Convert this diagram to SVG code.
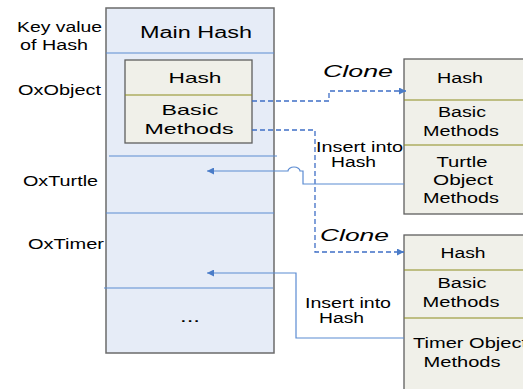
<svg xmlns="http://www.w3.org/2000/svg" width="523" height="389" viewBox="0 0 523 389">
<style>
text{font-family:"Liberation Sans",Arial,sans-serif;fill:#000;}
.lbl{font-size:14px;}
.big{font-size:16px;}
.bx{font-size:15px;text-anchor:middle;}
.rb{font-size:14px;text-anchor:middle;}
.cl{font-size:17px;font-style:italic;}
.main{fill:#e6ecf7;stroke:#6b6b6b;stroke-width:1.5;}
.obj{fill:#f0f0e9;stroke:#5f5f5f;stroke-width:1.3;}
.div{stroke:#5b8bd2;stroke-width:1.2;}
.olv{stroke:#8c8c1e;stroke-width:1.2;}
.sol{fill:none;stroke:#5b8bd2;stroke-width:1.2;}
.dsh{fill:none;stroke:#3f6fc6;stroke-width:1.3;stroke-dasharray:5,3;}
</style>
<defs>
<marker id="ah" viewBox="0 0 10 10" refX="10" refY="5" markerWidth="10" markerHeight="7" markerUnits="userSpaceOnUse" orient="auto">
<path d="M0,0 L10,5 L0,10 z" fill="#4a7cc8"/>
</marker>
</defs>

<g id="keys">
<text class="lbl" x="17" y="32" textLength="85" lengthAdjust="spacingAndGlyphs">Key value</text>
<text class="lbl" x="20" y="50" textLength="68" lengthAdjust="spacingAndGlyphs">of Hash</text>
<text class="lbl" x="18" y="95" textLength="83" lengthAdjust="spacingAndGlyphs">OxObject</text>
<text class="lbl" x="23" y="186" textLength="75" lengthAdjust="spacingAndGlyphs">OxTurtle</text>
<text class="lbl" x="28" y="249" textLength="76" lengthAdjust="spacingAndGlyphs">OxTimer</text>
</g>

<g id="mainhash">
<rect class="main" x="106" y="8" width="168" height="345"/>
<text class="big" x="140" y="38" textLength="112" lengthAdjust="spacingAndGlyphs">Main Hash</text>
<line class="div" x1="106" y1="53" x2="274" y2="53"/>
<line class="div" x1="109" y1="156" x2="277" y2="156"/>
<line class="div" x1="106" y1="213" x2="274" y2="213"/>
<line class="div" x1="104" y1="288" x2="273" y2="288"/>
<text class="big" x="180" y="322" textLength="20" lengthAdjust="spacingAndGlyphs">...</text>
</g>

<g id="oxobject">
<rect class="obj" x="125" y="60" width="127" height="83"/>
<line class="olv" x1="125" y1="95" x2="252" y2="95"/>
<text class="bx" x="195" y="83" textLength="53" lengthAdjust="spacingAndGlyphs">Hash</text>
<text class="bx" x="190" y="115" textLength="57" lengthAdjust="spacingAndGlyphs">Basic</text>
<text class="bx" x="189" y="134" textLength="89" lengthAdjust="spacingAndGlyphs">Methods</text>
</g>

<g id="oxturtle">
<rect class="obj" x="404" y="59" width="130" height="155"/>
<line class="olv" x1="404" y1="100" x2="534" y2="100"/>
<line class="olv" x1="404" y1="145" x2="534" y2="145"/>
<text class="rb" x="460" y="83" textLength="46" lengthAdjust="spacingAndGlyphs">Hash</text>
<text class="rb" x="462" y="117" textLength="48" lengthAdjust="spacingAndGlyphs">Basic</text>
<text class="rb" x="461" y="136" textLength="76" lengthAdjust="spacingAndGlyphs">Methods</text>
<text class="rb" x="462" y="167" textLength="51" lengthAdjust="spacingAndGlyphs">Turtle</text>
<text class="rb" x="463" y="185" textLength="60" lengthAdjust="spacingAndGlyphs">Object</text>
<text class="rb" x="461" y="203" textLength="76" lengthAdjust="spacingAndGlyphs">Methods</text>
</g>

<g id="oxtimer">
<rect class="obj" x="404" y="235" width="130" height="160"/>
<line class="olv" x1="404" y1="270" x2="534" y2="270"/>
<line class="olv" x1="404" y1="318" x2="534" y2="318"/>
<text class="rb" x="463" y="258" textLength="45" lengthAdjust="spacingAndGlyphs">Hash</text>
<text class="rb" x="462" y="288" textLength="49" lengthAdjust="spacingAndGlyphs">Basic</text>
<text class="rb" x="461" y="307" textLength="77" lengthAdjust="spacingAndGlyphs">Methods</text>
<text class="lbl" x="413" y="348" textLength="114" lengthAdjust="spacingAndGlyphs">Timer Object</text>
<text class="rb" x="462" y="367" textLength="77" lengthAdjust="spacingAndGlyphs">Methods</text>
</g>

<g id="connectors">
<path class="dsh" d="M252,101 H329 V91 H406" marker-end="url(#ah)"/>
<path class="dsh" d="M252,130 H315 V252 H404" marker-end="url(#ah)"/>
<path class="sol" d="M404,184 H303 V171 H300 A6,4 0 0 0 288,171 H207" marker-end="url(#ah)"/>
<path class="sol" d="M404,338 H296 V273 H207" marker-end="url(#ah)"/>
<text class="cl" x="323" y="77" textLength="70" lengthAdjust="spacingAndGlyphs">Clone</text>
<text class="cl" x="320" y="241" textLength="69" lengthAdjust="spacingAndGlyphs">Clone</text>
<text class="lbl" x="316" y="152" textLength="87" lengthAdjust="spacingAndGlyphs">Insert into</text>
<text class="lbl" x="331" y="167" textLength="45" lengthAdjust="spacingAndGlyphs">Hash</text>
<text class="lbl" x="305" y="308" textLength="86" lengthAdjust="spacingAndGlyphs">Insert into</text>
<text class="lbl" x="319" y="323" textLength="45" lengthAdjust="spacingAndGlyphs">Hash</text>
</g>
</svg>
